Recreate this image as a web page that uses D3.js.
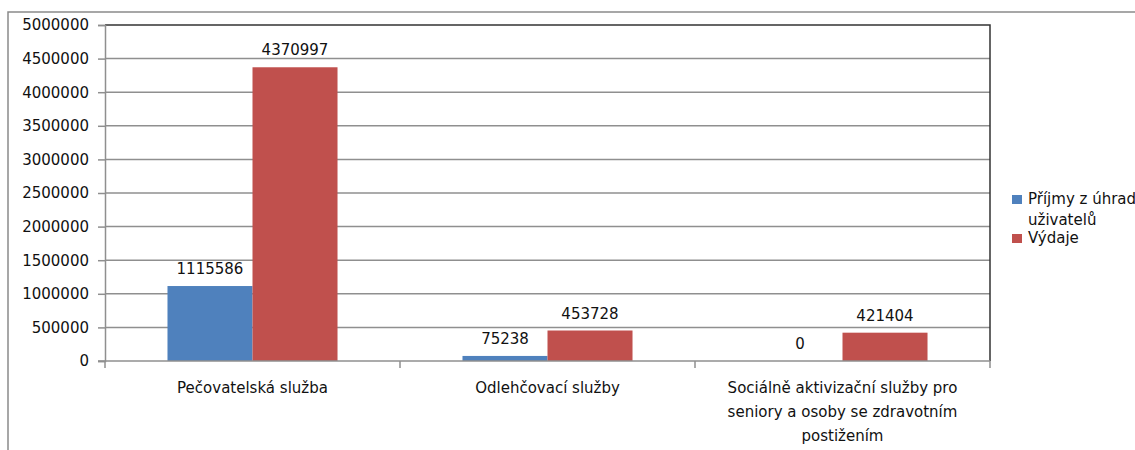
<html>
<head>
<meta charset="utf-8">
<script src="https://d3js.org/d3.v7.min.js"></script>
<style>
body { margin: 0; background: #fff; }
svg text { font-family: "DejaVu Sans", sans-serif; font-size: 15px; fill: #111; }
</style>
</head>
<body>
<svg width="1135" height="450"></svg>
<script>
// categories (line breaks as in the original axis labels)
var categories = ["Pečovatelská služba", "Odlehčovací služby", "Sociálně aktivizační služby pro\nseniory a osoby se zdravotním\npostižením"];
var seriesNames = ["Příjmy z úhrad uživatelů", "Výdaje"];
var prijmy = [1115586, 75238, 0];
var vydaje = [4370997, 453728, 421404];
var yTicks = [0, 500000, 1000000, 1500000, 2000000, 2500000, 3000000, 3500000, 4000000, 4500000, 5000000];
var colors = ["#4F81BD", "#C0504D"];

var data = categories.map(function (c, i) {
  return { cat: c, values: [prijmy[i], vydaje[i]] };
});

var svg = d3.select("svg");

// outer chart frame (only top and left visible)
svg.append("path")
  .attr("d", "M8,460 L8,12 L1140,12")
  .attr("fill", "none")
  .attr("stroke", "#8a8a8a")
  .attr("stroke-width", 1.5);

var plotL = 105, plotR = 990, plotT = 25, plotB = 361;

var y = d3.scaleLinear().domain([0, 5000000]).range([plotB, plotT]);
var x0 = d3.scaleBand().domain(categories).range([plotL, plotR]).paddingInner(0).paddingOuter(0);
var x1 = d3.scaleBand().domain(seriesNames).range([0, x0.bandwidth()]).paddingInner(0).paddingOuter(0.735);

// gridlines
svg.append("g")
  .selectAll("line")
  .data(yTicks.slice(1, -1))
  .enter().append("line")
  .attr("x1", plotL).attr("x2", plotR)
  .attr("y1", function (d) { return y(d); })
  .attr("y2", function (d) { return y(d); })
  .attr("stroke", "#8f8f8f")
  .attr("stroke-width", 1.5);

// plot area top / right border
svg.append("path")
  .attr("d", "M" + plotL + "," + plotT + " L" + plotR + "," + plotT + " L" + plotR + "," + plotB)
  .attr("fill", "none")
  .attr("stroke", "#333")
  .attr("stroke-width", 1.5);

// y axis
var yAxis = svg.append("g")
  .attr("transform", "translate(" + plotL + ",0)")
  .call(d3.axisLeft(y).tickValues(yTicks).tickFormat(d3.format("d")).tickSize(7).tickPadding(9));
yAxis.select(".domain").attr("stroke", "#8f8f8f").attr("stroke-width", 1.5);
yAxis.selectAll(".tick line").attr("stroke", "#8f8f8f").attr("stroke-width", 1.5);
yAxis.attr("font-size", null).attr("font-family", null);
yAxis.selectAll(".tick text").attr("fill", null);

// bars
var groups = svg.append("g")
  .selectAll("g")
  .data(data)
  .enter().append("g")
  .attr("transform", function (d) { return "translate(" + x0(d.cat) + ",0)"; });

groups.selectAll("rect")
  .data(function (d) { return d.values.map(function (v, i) { return { s: seriesNames[i], v: v, i: i }; }); })
  .enter().append("rect")
  .attr("x", function (d) { return x1(d.s); })
  .attr("width", x1.bandwidth())
  .attr("y", function (d) { return y(d.v); })
  .attr("height", function (d) { return y(0) - y(d.v); })
  .attr("fill", function (d) { return colors[d.i]; });

groups.selectAll("text.val")
  .data(function (d) { return d.values.map(function (v, i) { return { s: seriesNames[i], v: v }; }); })
  .enter().append("text")
  .attr("class", "val")
  .attr("x", function (d) { return x1(d.s) + x1.bandwidth() / 2; })
  .attr("y", function (d) { return y(d.v) - 12; })
  .attr("text-anchor", "middle")
  .text(function (d) { return d.v; });

// x axis
var xAxis = svg.append("g")
  .attr("transform", "translate(0," + plotB + ")");
xAxis.append("line")
  .attr("x1", plotL - 7).attr("x2", plotR)
  .attr("stroke", "#8f8f8f").attr("stroke-width", 1.5);
xAxis.selectAll("line.tk")
  .data([plotL].concat(categories.map(function (c) { return x0(c) + x0.bandwidth(); })))
  .enter().append("line")
  .attr("class", "tk")
  .attr("x1", function (d) { return d; }).attr("x2", function (d) { return d; })
  .attr("y1", 0).attr("y2", 7)
  .attr("stroke", "#8f8f8f").attr("stroke-width", 1.5);

xAxis.selectAll("text")
  .data(categories)
  .enter().append("text")
  .attr("text-anchor", "middle")
  .attr("transform", function (c) { return "translate(" + (x0(c) + x0.bandwidth() / 2) + ",32)"; })
  .each(function (c) {
    var t = d3.select(this);
    c.split("\n").forEach(function (line, i) {
      t.append("tspan").attr("x", 0).attr("y", i * 24).text(line);
    });
  });

// legend
var legend = svg.append("g");
var legendRows = [
  { lines: ["Příjmy z úhrad", "uživatelů"], y: 199, color: colors[0] },
  { lines: ["Výdaje"], y: 238, color: colors[1] }
];
legendRows.forEach(function (r) {
  legend.append("rect")
    .attr("x", 1012).attr("y", r.y - 4)
    .attr("width", 10).attr("height", 9)
    .attr("fill", r.color);
  var t = legend.append("text").attr("x", 1028).attr("y", r.y + 5);
  r.lines.forEach(function (line, i) {
    t.append("tspan").attr("x", 1028).attr("dy", i === 0 ? 0 : 21).text(line);
  });
});
</script>
</body>
</html>
